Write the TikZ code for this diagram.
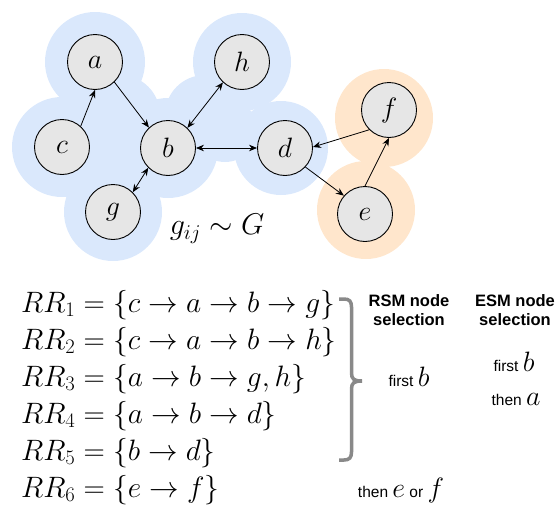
\RequirePackage{fix-cm}
\documentclass[tikz,border=0pt]{standalone}
\usepackage{fontspec}
\newfontfamily\arialfont{Liberation Sans}
\usetikzlibrary{arrows.meta}
\definecolor{blobblue}{HTML}{DAE8FC}
\definecolor{bloborange}{HTML}{FFE6CC}
\definecolor{nodegrey}{HTML}{E6E6E6}
\definecolor{bracegrey}{HTML}{898989}
\newcommand\mathbig[1]{{\fontsize{28}{32}\selectfont$#1$}}
\tikzset{
  vtx/.style={circle, draw=black, line width=0.9pt, fill=nodegrey, minimum size=55pt, inner sep=0pt, font=\fontsize{28}{32}\selectfont},
  edge/.style={line width=0.8pt, -{Stealth[length=8pt,width=6.5pt]}},
  bedge/.style={line width=0.8pt, {Stealth[length=8pt,width=6.5pt]}-{Stealth[length=8pt,width=6.5pt]}},
  eqn/.style={anchor=base west, inner sep=0pt, font=\fontsize{29.5}{33}\selectfont},
  lbl/.style={anchor=base, inner sep=0pt, font=\arialfont\fontsize{15.5}{18}\selectfont},
  hdr/.style={anchor=base, inner sep=0pt, font=\arialfont\bfseries\fontsize{16.5}{18.5}\selectfont},
  blue blob/.style={fill=blobblue},
  orange blob/.style={fill=bloborange},
  bracestyle/.style={draw=bracegrey, line width=3.5pt},
}
\begin{document}
\begin{tikzpicture}[x=1pt,y=-1pt]
\useasboundingbox (0,0) rectangle (559,506);
% blue cluster
\fill[blue blob] (95,62) circle (50);
\fill[blue blob] (62,147) circle (50);
\fill[blue blob] (168,148) circle (50);
\fill[blue blob] (113,212) circle (49);
\fill[blue blob] (242,62) circle (49);
\fill[blue blob] (281,148) circle (47);
\fill[blue blob] (120,115) circle (40);
\fill[blue blob] (115,160) circle (35);
\fill[blue blob] (205,115) circle (40);
\fill[blue blob] (225,130) circle (32);
% orange cluster
\fill[orange blob] (384,118) circle (49);
\fill[orange blob] (366,210) circle (49);
% vertices
\node[vtx] (a) at (95,62) {$a$};
\node[vtx] (h) at (242,62) {$h$};
\node[vtx] (c) at (62,147) {$c$};
\node[vtx] (b) at (168,148) {$b$};
\node[vtx] (d) at (285,148) {$d$};
\node[vtx] (f) at (389,110) {$f$};
\node[vtx] (g) at (113,212) {$g$};
\node[vtx] (e) at (365,214) {$e$};
% edges
\draw[edge] (c.48) -- (a.-90);
\draw[edge] (a.-46) -- (b.133);
\draw[bedge] (b.46) -- (h.-133);
\draw[bedge] (b.east) -- (d.west);
\draw[bedge] (b.225) -- (g.45);
\draw[edge] (f.225) -- (d.2);
\draw[edge] (d.-43) -- (e.139);
\draw[edge] (e.north) -- (f.south);
\node[inner sep=0pt, font=\fontsize{30}{34}\selectfont] (gij) at (217,229) {$g_{ij} \sim G$};
% equations
\node[eqn] (rr1) at (21,312) {$RR_1 = \{c \to a \to b \to g\}$};
\node[eqn] (rr2) at (21,349) {$RR_2 = \{c \to a \to b \to h\}$};
\node[eqn] (rr3) at (21,386) {$RR_3 = \{a \to b \to g, h\}$};
\node[eqn] (rr4) at (21,423) {$RR_4 = \{a \to b \to d\}$};
\node[eqn] (rr5) at (21,460) {$RR_5 = \{b \to d\}$};
\node[eqn] (rr6) at (21,497) {$RR_6 = \{e \to f\}$};
% brace
\draw[bracestyle] (339,299) -- (344,299) .. controls (349.5,299) and (351.5,301.5) .. (351.5,307)
  -- (351.5,373) .. controls (351.5,379) and (354,381) .. (362,381)
  .. controls (354,381) and (351.5,383) .. (351.5,389)
  -- (351.5,452) .. controls (351.5,457.5) and (349.5,460) .. (344,460) -- (339,460);
% labels
\node[hdr] (rsm1) at (409,306.7) {RSM node};
\node[hdr] (rsm2) at (409,325) {selection};
\node[hdr] (esm1) at (515,306.7) {ESM node};
\node[hdr] (esm2) at (515,325) {selection};
\node[lbl] (rsmfirst) at (409,386.7) {first \mathbig{b}};
\node[lbl] (esmfirst) at (514,371.7) {first \mathbig{b}};
\node[lbl] (esmthen) at (516,405) {then \mathbig{a}};
\node[lbl] (rsmthen) at (401,497) {then \mathbig{e} or \mathbig{f}};
\end{tikzpicture}
\end{document}
